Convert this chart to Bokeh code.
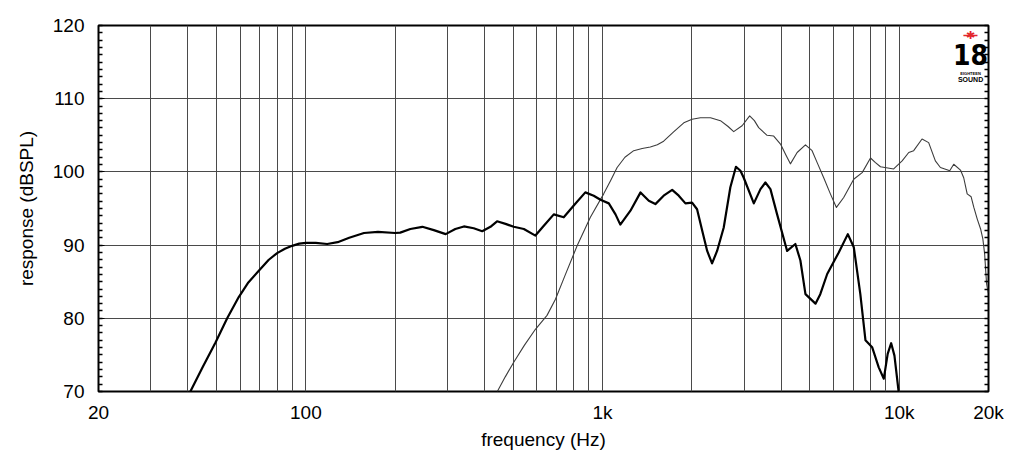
from bokeh.plotting import figure
from bokeh.models import Range1d, FixedTicker, LinearAxis, Label
from bokeh.embed import file_html
from bokeh.resources import INLINE

# ---- data ----
thick_freq = [40.8, 45, 49.6, 54.3, 59.4, 64, 69.4, 75, 80, 85, 89.9, 95, 100, 108, 118, 128,
              140, 157, 175, 200, 208, 225, 247, 270, 296, 319, 341, 368, 393, 419, 441,
              471, 502, 543, 594, 634, 685, 740, 800, 875, 934, 984, 1050, 1106, 1148,
              1242, 1343, 1432, 1507, 1607, 1717, 1807, 1903, 2004, 2083, 2167, 2253,
              2340, 2433, 2562, 2697, 2817, 2917, 2992, 3236, 3407, 3540, 3681, 3877,
              4190, 4467, 4645, 4831, 5222, 5420, 5719, 6256, 6712, 7031, 7396, 7697,
              8105, 8531, 8874, 9146, 9397, 9638, 9955]
thick_db = [70.0, 73.4, 76.7, 80.0, 82.9, 84.9, 86.5, 88.0, 88.9, 89.5, 89.9, 90.2, 90.3, 90.3,
            90.15, 90.4, 91.0, 91.65, 91.8, 91.65, 91.7, 92.2, 92.5, 92.05, 91.5, 92.2, 92.55,
            92.3, 91.9, 92.5, 93.25, 92.9, 92.5, 92.2, 91.3, 92.65, 94.2, 93.8, 95.4, 97.2,
            96.75, 96.2, 95.7, 94.2, 92.8, 94.7, 97.2, 96.05, 95.6, 96.75, 97.55, 96.75,
            95.7, 95.8, 94.9, 92.0, 89.2, 87.5, 89.2, 92.4, 97.9, 100.7, 100.15, 99.2,
            95.7, 97.65, 98.55, 97.65, 94.2, 89.2, 90.15, 87.9, 83.3, 82.0, 83.3, 86.05,
            89.0, 91.5, 89.7, 83.3, 77.0, 76.05, 73.3, 71.75, 75.15, 76.6, 74.9, 70.0]

thin_freq = [442, 470, 502, 545, 594, 650, 694, 750, 821, 910, 1009, 1064, 1120, 1190, 1274,
             1360, 1449, 1530, 1607, 1740, 1879, 2004, 2138, 2312, 2497, 2650, 2768, 2954,
             3133, 3250, 3360, 3586, 3776, 3980, 4150, 4298, 4529, 4831, 5086, 5300, 5566,
             5862, 6143, 6501, 7026, 7503, 8004, 8300, 8648, 9581, 10230, 10770, 11190,
             11940, 12570, 13240, 13770, 14490, 14800, 15270, 16090, 16500, 16950, 17480,
             17850, 18330, 18810, 19140, 19410, 19570, 19710, 19950]
thin_db = [70.0, 72.0, 74.0, 76.3, 78.5, 80.4, 82.6, 86.0, 89.9, 93.8, 97.0, 98.8, 100.6, 102.0,
           102.9, 103.2, 103.4, 103.7, 104.2, 105.5, 106.7, 107.2, 107.4, 107.4, 107.0, 106.2,
           105.5, 106.3, 107.65, 107.0, 106.05, 105.0, 104.9, 103.8, 102.3, 101.1, 102.65,
           103.7, 102.9, 101.2, 99.2, 97.0, 95.15, 96.5, 99.0, 99.9, 101.9, 101.3, 100.7,
           100.4, 101.5, 102.65, 102.9, 104.5, 104.0, 101.5, 100.6, 100.3, 100.15, 101.05,
           100.25, 99.2, 97.0, 96.6, 95.15, 93.55, 92.2, 90.85, 88.8, 86.5, 84.7, 83.5]

x_tick_values = [20, 100, 1000, 10000, 20000]
x_tick_labels = ["20", "100", "1k", "10k", "20k"]
grid_freqs = [30, 40, 50, 60, 70, 80, 90, 100, 200, 300, 400, 500, 600, 700, 800, 900,
              1000, 2000, 3000, 4000, 5000, 6000, 7000, 8000, 9000, 10000]
y_major = [70, 80, 90, 100, 110, 120]
y_minor = list(range(70, 121))

FONT = "Liberation Sans"

p = figure(width=1016, height=452, x_axis_type="log",
           x_range=Range1d(20, 20000), y_range=Range1d(70, 120),
           output_backend="svg", toolbar_location=None,
           min_border_left=98, min_border_right=28, min_border_top=25, min_border_bottom=61,
           background_fill_color="white", border_fill_color="white")

p.outline_line_color = "black"
p.outline_line_width = 2

# grids
p.xgrid.ticker = FixedTicker(ticks=grid_freqs)
p.ygrid.ticker = FixedTicker(ticks=y_major)
for g in (p.xgrid, p.ygrid):
    g.grid_line_color = "#4a4a4a"
    g.grid_line_width = 1

# x axis
xa = p.xaxis[0]
xa.ticker = FixedTicker(ticks=x_tick_values)
xa.major_label_overrides = {v: l for v, l in zip(x_tick_values, x_tick_labels)}
xa.major_tick_in = 0
xa.major_tick_out = 0
xa.minor_tick_in = 0
xa.minor_tick_out = 0
xa.axis_line_color = None
xa.axis_label = "frequency (Hz)"
xa.major_label_standoff = 10
xa.axis_label_standoff = 3

# y axis (left)
ya = p.yaxis[0]
ya.ticker = FixedTicker(ticks=y_major, minor_ticks=y_minor)
ya.major_tick_in = 6
ya.major_tick_out = 0
ya.minor_tick_in = 4
ya.minor_tick_out = 0
ya.axis_line_color = None
ya.axis_label = "response (dBSPL)"
ya.major_label_standoff = 14
ya.axis_label_standoff = 13

# y axis (right) with only minor ticks
ra = LinearAxis(ticker=FixedTicker(ticks=[], minor_ticks=y_minor))
ra.minor_tick_in = 4
ra.minor_tick_out = 0
ra.major_tick_in = 0
ra.major_tick_out = 0
ra.axis_line_color = None
p.add_layout(ra, "right")

for ax in (xa, ya, ra):
    ax.major_label_text_font = FONT
    ax.major_label_text_font_size = "19px"
    ax.major_label_text_color = "black"
    ax.axis_label_text_font = FONT
    ax.axis_label_text_font_size = "19px"
    ax.axis_label_text_font_style = "normal"
    ax.axis_label_text_color = "black"
    ax.major_tick_line_color = "black"
    ax.minor_tick_line_color = "black"
    ax.minor_tick_line_width = 1.5

# curves
p.line(thin_freq, thin_db, line_color="#3c3c3c", line_width=1.1, line_join="round")
p.line(thick_freq, thick_db, line_color="black", line_width=2.2, line_join="round")

# logo (Eighteen Sound)
logo_x = 17400
p.add_layout(Label(x=logo_x, y=118.75, text="—", text_color="#e3262d", text_font_size="14px",
                   text_align="center", text_baseline="middle", text_font_style="bold"))
p.add_layout(Label(x=logo_x, y=118.75, text="✱", text_color="#e3262d", text_font_size="11px",
                   text_align="center", text_baseline="middle"))
p.add_layout(Label(x=logo_x, y=116.1, text="18", text_color="black", text_font_size="28px",
                   text_font="'Liberation Sans Narrow', 'DejaVu Sans Condensed', sans-serif",
                   text_font_style="bold", text_align="center", text_baseline="middle"))
p.add_layout(Label(x=logo_x, y=113.5, text="EIGHTEEN", text_color="black", text_font_size="4px",
                   text_font=FONT, text_font_style="bold", text_align="center",
                   text_baseline="middle"))
p.add_layout(Label(x=logo_x, y=112.65, text="SOUND", text_color="black", text_font_size="7px",
                   text_font=FONT, text_font_style="bold", text_align="center",
                   text_baseline="middle"))

open("out.html", "w").write(file_html(p, INLINE))
